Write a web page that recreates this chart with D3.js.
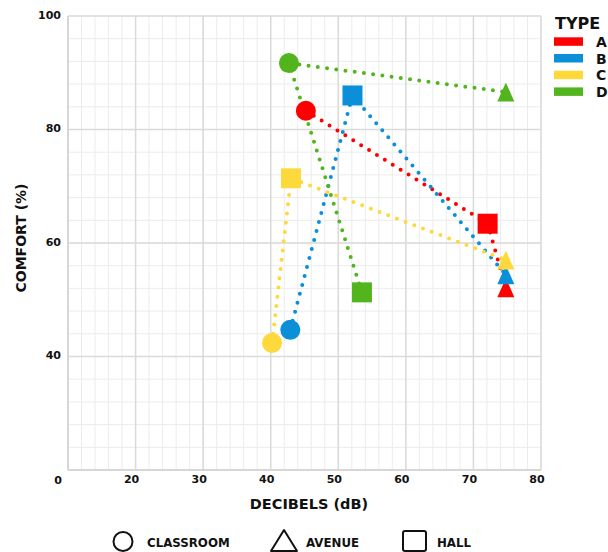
<!DOCTYPE html>
<html>
<head>
<meta charset="utf-8">
<script src="https://cdn.jsdelivr.net/npm/d3@7"></script>
<style>
  html, body { margin: 0; padding: 0; background: #fff; }
  svg { display: block; }
  text { font-family: "DejaVu Sans", Verdana, sans-serif; font-weight: bold; fill: #111; }
</style>
</head>
<body>
<svg id="chart" width="608" height="552"></svg>
<script>
// Noise vs comfort survey, four building types measured at three locations
const types = ["A", "B", "C", "D"];
const typeColors = ["#ff0000", "#0b8fd8", "#fdd93c", "#52b51e"];
const locations = ["CLASSROOM", "AVENUE", "HALL"];

// decibels (dB) and comfort (%) per type, one array per location
const classroomDb = [45.2, 42.9, 40.2, 42.7];
const classroomComfort = [83.3, 44.7, 42.4, 91.7];
const avenueDb = [74.8, 74.8, 74.8, 74.8];
const avenueComfort = [52.1, 54.4, 57.0, 86.6];
const hallDb = [72.1, 52.1, 43.0, 53.5];
const hallComfort = [63.4, 86.0, 71.4, 51.3];

// order in which each type's dotted line visits its locations
const pathOrder = [
  ["CLASSROOM", "HALL", "AVENUE"],
  ["CLASSROOM", "HALL", "AVENUE"],
  ["CLASSROOM", "HALL", "AVENUE"],
  ["HALL", "CLASSROOM", "AVENUE"]
];

const xTicks = [20, 30, 40, 50, 60, 70, 80];
const yTicks = [40, 60, 80, 100];
const originLabel = "0";

const svg = d3.select("#chart");
const plotLeft = 68, plotRight = 541, plotTop = 16, plotBottom = 470;

const x = d3.scaleLinear().domain([10, 80]).range([plotLeft, plotRight]);
const y = d3.scaleLinear().domain([20, 100]).range([plotBottom, plotTop]);

// grid: minor lines every 2 dB / 4 %, major on the ticks
const grid = svg.append("g");
grid.selectAll(".vminor").data(d3.range(10, 80.1, 2)).join("line")
  .attr("x1", d => x(d)).attr("x2", d => x(d)).attr("y1", plotTop).attr("y2", plotBottom)
  .attr("stroke", "#ececec").attr("stroke-width", 1);
grid.selectAll(".hminor").data(d3.range(20, 100.1, 4)).join("line")
  .attr("x1", plotLeft).attr("x2", plotRight).attr("y1", d => y(d)).attr("y2", d => y(d))
  .attr("stroke", "#ececec").attr("stroke-width", 1);
grid.selectAll(".vmajor").data(d3.range(10, 80.1, 10)).join("line")
  .attr("x1", d => x(d)).attr("x2", d => x(d)).attr("y1", plotTop).attr("y2", plotBottom)
  .attr("stroke", "#dadada").attr("stroke-width", 1.5);
grid.selectAll(".hmajor").data(d3.range(20, 100.1, 20)).join("line")
  .attr("x1", plotLeft).attr("x2", plotRight).attr("y1", d => y(d)).attr("y2", d => y(d))
  .attr("stroke", "#dadada").attr("stroke-width", 1.5);
// axis lines
grid.append("line").attr("x1", plotLeft).attr("x2", plotLeft).attr("y1", plotTop).attr("y2", plotBottom)
  .attr("stroke", "#d6d6d6").attr("stroke-width", 2);
grid.append("line").attr("x1", plotLeft).attr("x2", plotRight).attr("y1", plotBottom).attr("y2", plotBottom)
  .attr("stroke", "#d6d6d6").attr("stroke-width", 2);

// axes (labels only)
const xAxis = svg.append("g").attr("transform", `translate(0,${plotBottom})`)
  .call(d3.axisBottom(x).tickValues(xTicks).tickSize(0).tickPadding(5));
xAxis.select(".domain").remove();
xAxis.selectAll("text").attr("dx", -4.5).style("font-size", "11px")
  .style("font-family", "DejaVu Sans").style("font-weight", "bold").attr("fill", "#111");

const yAxis = svg.append("g").attr("transform", `translate(${plotLeft},0)`)
  .call(d3.axisLeft(y).tickValues(yTicks).tickSize(0).tickPadding(7));
yAxis.select(".domain").remove();
yAxis.selectAll("text").attr("dy", "0.2em").style("font-size", "11px")
  .style("font-family", "DejaVu Sans").style("font-weight", "bold").attr("fill", "#111");

svg.append("text").attr("x", 58).attr("y", 483.5).attr("text-anchor", "middle")
  .style("font-size", "11px").text(originLabel);

// axis titles
svg.append("text").attr("x", 309).attr("y", 509).attr("text-anchor", "middle")
  .style("font-size", "14.5px").text("DECIBELS (dB)");
svg.append("text").attr("transform", "translate(26,238) rotate(-90)").attr("text-anchor", "middle")
  .style("font-size", "14px").text("COMFORT (%)");

// build points per type
function pointFor(t, loc) {
  if (loc === "CLASSROOM") return { loc, db: classroomDb[t], comfort: classroomComfort[t] };
  if (loc === "AVENUE") return { loc, db: avenueDb[t], comfort: avenueComfort[t] };
  return { loc, db: hallDb[t], comfort: hallComfort[t] };
}
const series = types.map((name, i) => ({
  name, color: typeColors[i],
  points: pathOrder[i].map(loc => pointFor(i, loc))
}));

// dotted connecting lines
const line = d3.line().x(d => x(d.db)).y(d => y(d.comfort));
svg.append("g").selectAll("path").data(series).join("path")
  .attr("d", d => line(d.points))
  .attr("fill", "none").attr("stroke", d => d.color)
  .attr("stroke-width", 4).attr("stroke-linecap", "round")
  .attr("stroke-dasharray", "0 9.3");

// marker shapes
const tallTriangle = {
  draw(ctx, size) {
    const w = 8.5, h = 9.5;
    ctx.moveTo(0, -h); ctx.lineTo(w, h); ctx.lineTo(-w, h); ctx.closePath();
  }
};
const shapeFor = { CLASSROOM: d3.symbolCircle, AVENUE: tallTriangle, HALL: d3.symbolSquare };
const sizeFor = { CLASSROOM: Math.PI * 100, AVENUE: 1, HALL: 400 };

const markers = svg.append("g");
series.forEach(s => {
  markers.append("g").selectAll("path").data(s.points).join("path")
    .attr("transform", d => `translate(${x(d.db)},${y(d.comfort)})`)
    .attr("d", d => d3.symbol(shapeFor[d.loc], sizeFor[d.loc])())
    .attr("fill", s.color);
});

// type legend (top right)
const legend = svg.append("g");
legend.append("text").attr("x", 555).attr("y", 29).style("font-size", "16px").text("TYPE");
types.forEach((t, i) => {
  legend.append("rect").attr("x", 554).attr("y", 37.3 + i * 16.7)
    .attr("width", 29).attr("height", 8.5).attr("fill", typeColors[i]);
  legend.append("text").attr("x", 596).attr("y", 46.8 + i * 16.7)
    .style("font-size", "14px").text(t);
});

// location legend (bottom)
const shapesLegend = svg.append("g").attr("fill", "none").attr("stroke", "#111")
  .attr("stroke-width", 2).attr("stroke-linejoin", "round");
shapesLegend.append("circle").attr("cx", 123).attr("cy", 541.5).attr("r", 9.5);
shapesLegend.append("path").attr("d", "M284,530 L297,551 L271,551 Z");
shapesLegend.append("rect").attr("x", 403).attr("y", 531).attr("width", 23).attr("height", 20).attr("rx", 2);

const legendLabelX = [147, 306, 437];
locations.forEach((loc, i) => {
  svg.append("text").attr("x", legendLabelX[i]).attr("y", 546.5)
    .style("font-size", "11.8px").text(loc);
});
</script>
</body>
</html>
